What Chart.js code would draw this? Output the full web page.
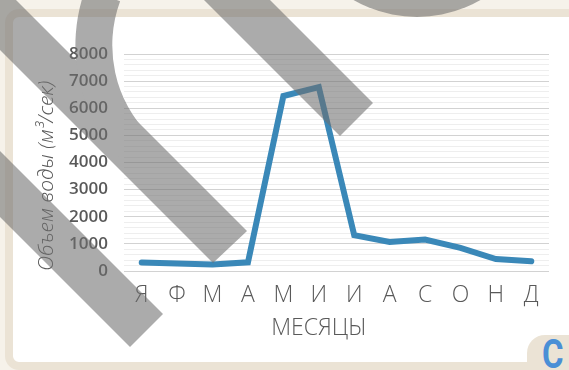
<!DOCTYPE html>
<html>
<head>
<meta charset="utf-8">
<script src="https://cdn.jsdelivr.net/npm/chart.js@4.4.1/dist/chart.umd.min.js"></script>
<style>
  html, body { margin: 0; padding: 0; }
  body {
    width: 569px; height: 370px; position: relative; overflow: hidden;
    background: #f6f2ea; font-family: 'Open Sans', sans-serif;
  }
  #card {
    position: absolute; left: 5px; top: 9px; width: 620px; height: 361px;
    box-sizing: border-box; background: #fff;
    border: 8px solid #ebe3d5; border-radius: 14px;
  }
  #badge {
    position: absolute; left: 527px; top: 335px; width: 60px; height: 50px;
    background: #ebe3d5; border-top-left-radius: 18px;
  }
  #badge span {
    position: absolute; left: 15px; top: -4px;
    font-family: Roboto, sans-serif; font-weight: 700; font-size: 40px;
    color: #4a8fd6; transform: scaleX(0.82); transform-origin: left top;
  }
  #chartBox { position: absolute; left: 0; top: 0; width: 569px; height: 370px; }
  #xTitle {
    position: absolute; left: 219px; width: 200px; top: 310px; text-align: center;
    font-family: 'Open Sans', sans-serif; font-weight: 300; font-size: 23px;
    line-height: 32px; color: #595959;
  }
  #mark { position: absolute; left: 0; top: 0; pointer-events: none; }
</style>
</head>
<body>
<div id="card"></div>
<div id="badge"><span>C</span></div>
<div id="chartBox"><canvas id="flowChart" width="569" height="370"></canvas></div>
<div id="xTitle">МЕСЯЦЫ</div>
<svg id="mark" width="569" height="370" viewBox="0 0 569 370">
  <g opacity="0.58" fill="#6e6e6e">
    <polygon points="-70,-20 -4,-20 247,231 213,263"/>
    <polygon points="184,-20 250,-20 373,103 340,136"/>
    <polygon points="-20,131 163,314 130,347 -20,197"/>
    <path d="M 85.5 -11.4 A 165 165 0 0 0 123.3 161.7 L 149.5 135.5 A 128 128 0 0 1 120.1 1.2 Z"/>
    <circle cx="417" cy="-110" r="127"/>
  </g>
</svg>
<script>
// Расход воды по месяцам
const months = ['Я', 'Ф', 'М', 'А', 'М', 'И', 'И', 'А', 'С', 'О', 'Н', 'Д'];
const waterVolume = [310, 280, 240, 320, 6450, 6780, 1320, 1070, 1160, 850, 440, 360];
const yTicks = [0, 1000, 2000, 3000, 4000, 5000, 6000, 7000, 8000];
const yMinorStep = 200;

const textColor = '#595959';

new Chart(document.getElementById('flowChart'), {
    type: 'line',
    data: {
        labels: months,
        datasets: [{
            data: waterVolume,
            borderColor: '#3a88b8',
            borderWidth: 6,
            borderJoinStyle: 'miter',
            borderCapStyle: 'round',
            pointRadius: 0,
            tension: 0,
            fill: false
        }]
    },
    options: {
        responsive: false,
        animation: false,
        layout: {
            padding: { left: 0, right: 20, top: 54, bottom: 0 }
        },
        plugins: {
            legend: { display: false },
            tooltip: { enabled: false }
        },
        scales: {
            x: {
                offset: true,
                grid: { display: false, drawTicks: false },
                border: { display: false },
                ticks: {
                    color: textColor,
                    font: { family: 'Open Sans', size: 23, weight: '300' },
                    padding: 11,
                    maxRotation: 0,
                    autoSkip: false
                },
                afterFit: (scale) => { scale.height = 99; }
            },
            y: {
                min: yTicks[0],
                max: yTicks[yTicks.length - 1],
                ticks: {
                    stepSize: yMinorStep,
                    autoSkip: false,
                    color: textColor,
                    font: { family: 'Open Sans', size: 17, weight: '600' },
                    padding: 16,
                    callback: (v) => yTicks.includes(v) ? String(v) : ''
                },
                grid: {
                    drawTicks: false,
                    color: (ctx) => ctx.tick && yTicks.includes(ctx.tick.value) ? '#d2d2d2' : '#eeeeee',
                    lineWidth: 1
                },
                border: { display: false },
                title: {
                    display: true,
                    text: 'Объем воды (м³/сек)',
                    align: 'start',
                    color: textColor,
                    font: { family: 'Open Sans', size: 21, style: 'italic', weight: '300' },
                    padding: { top: 34, bottom: 0 }
                },
                afterFit: (scale) => { scale.width = 124; }
            }
        }
    }
});
</script>
</body>
</html>
